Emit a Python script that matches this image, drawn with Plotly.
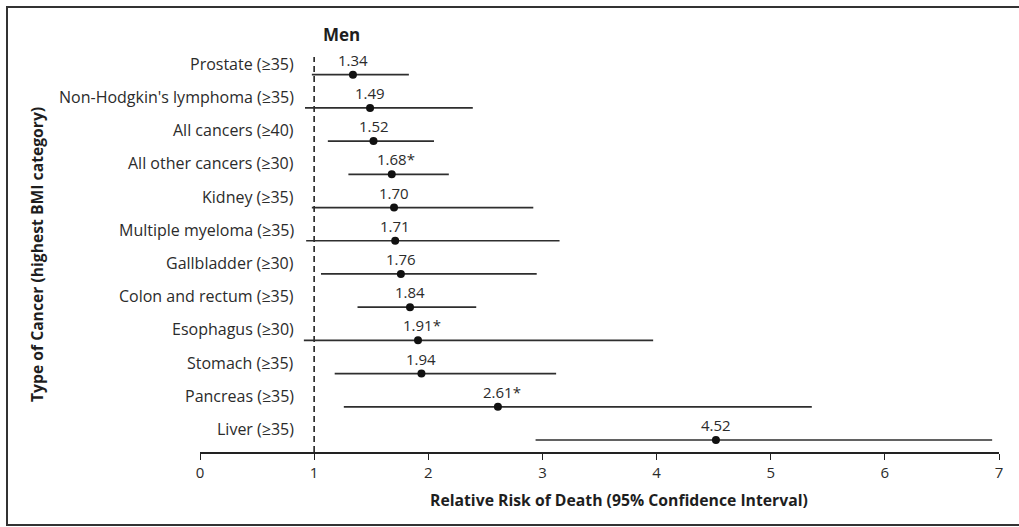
import plotly.graph_objects as go

# Relative risk of death from cancer among men in the highest BMI category
cancers = [
    "Prostate (≥35)",
    "Non-Hodgkin's lymphoma (≥35)",
    "All cancers (≥40)",
    "All other cancers (≥30)",
    "Kidney (≥35)",
    "Multiple myeloma (≥35)",
    "Gallbladder (≥30)",
    "Colon and rectum (≥35)",
    "Esophagus (≥30)",
    "Stomach (≥35)",
    "Pancreas (≥35)",
    "Liver (≥35)",
]
relative_risk = [1.34, 1.49, 1.52, 1.68, 1.70, 1.71, 1.76, 1.84, 1.91, 1.94, 2.61, 4.52]
ci_low = [0.98, 0.92, 1.12, 1.30, 0.98, 0.93, 1.06, 1.38, 0.91, 1.18, 1.26, 2.94]
ci_high = [1.83, 2.39, 2.05, 2.18, 2.92, 3.15, 2.95, 2.42, 3.97, 3.12, 5.36, 6.94]
flags = ["", "", "", "*", "", "", "", "", "*", "", "*", ""]
x_ticks = [0, 1, 2, 3, 4, 5, 6, 7]

W, H = 1019, 527
PLOT_L, PLOT_R, PLOT_T, PLOT_B = 200, 999, 57, 452
FONT = "'Open Sans', Lato, sans-serif"
TEXT = "#2b2b2b"
INK = "#1e1e1e"

n = len(cancers)
rows = [n - 1 - i for i in range(n)]  # first category at the top

err_plus = [h - r for h, r in zip(ci_high, relative_risk)]
err_minus = [r - l for r, l in zip(relative_risk, ci_low)]

fig = go.Figure()
fig.add_trace(
    go.Scatter(
        x=relative_risk,
        y=rows,
        mode="markers",
        marker=dict(size=8, color="#111111"),
        error_x=dict(
            type="data",
            symmetric=False,
            array=err_plus,
            arrayminus=err_minus,
            width=0,
            thickness=1.7,
            color="#2e2e2e",
        ),
        hoverinfo="skip",
        showlegend=False,
    )
)

# Reference line at a relative risk of 1
fig.add_shape(
    type="line", xref="x", yref="paper", x0=1, x1=1, y0=0, y1=1,
    line=dict(color="#222222", width=1.6, dash="6px,4px"), layer="below",
)


def px_x(p):
    return (p - PLOT_L) / (PLOT_R - PLOT_L)


def px_y(p):
    return (PLOT_B - p) / (PLOT_B - PLOT_T)


# Frame around the figure
fig.add_shape(
    type="rect", xref="paper", yref="paper",
    x0=px_x(7), x1=px_x(1030), y0=px_y(525), y1=px_y(7),
    line=dict(color="#333333", width=2), fillcolor="rgba(0,0,0,0)",
)

annotations = []
for label, r, f, y in zip(cancers, relative_risk, flags, rows):
    # category label to the left of the reference line
    annotations.append(dict(
        x=px_x(296), xref="paper", y=y, yref="y", text=label,
        xanchor="right", yanchor="middle", yshift=11, showarrow=False,
        font=dict(family=FONT, size=16, color=TEXT),
    ))
    # estimate printed above its point
    annotations.append(dict(
        x=r, xref="x", y=y, yref="y", text=f"{r:.2f}{f}",
        xanchor="center", yanchor="middle", yshift=15,
        xshift=4 if f else 0, showarrow=False,
        font=dict(family=FONT, size=15, color=TEXT),
    ))

annotations.append(dict(
    x=px_x(321), xref="paper", y=px_y(35), yref="paper", text="<b>Men</b>",
    xanchor="left", yanchor="middle", showarrow=False,
    font=dict(family=FONT, size=17, color=INK),
))
annotations.append(dict(
    x=px_x(619), xref="paper", y=px_y(500), yref="paper",
    text="<b>Relative Risk of Death (95% Confidence Interval)</b>",
    xanchor="center", yanchor="middle", showarrow=False,
    font=dict(family=FONT, size=15.75, color=INK),
))
annotations.append(dict(
    x=px_x(37), xref="paper", y=px_y(255), yref="paper",
    text="<b>Type of Cancer (highest BMI category)</b>", textangle=-90,
    xanchor="center", yanchor="middle", showarrow=False,
    font=dict(family=FONT, size=15.7, color=INK),
))

fig.update_layout(
    width=W,
    height=H,
    margin=dict(l=PLOT_L, r=W - PLOT_R, t=PLOT_T, b=H - PLOT_B),
    paper_bgcolor="white",
    plot_bgcolor="white",
    annotations=annotations,
    xaxis=dict(
        range=[0, 7],
        tickvals=x_ticks,
        ticktext=[str(t) for t in x_ticks],
        showline=True,
        linecolor="#222222",
        linewidth=1.6,
        ticks="outside",
        ticklen=6,
        tickwidth=1.4,
        tickcolor="#222222",
        showgrid=False,
        zeroline=False,
        tickfont=dict(family=FONT, size=15, color=TEXT),
    ),
    yaxis=dict(
        range=[-(PLOT_B - 440) / 33.2, n - 1 + (74.7 - PLOT_T) / 33.2],
        showticklabels=False,
        showgrid=False,
        zeroline=False,
        showline=False,
        ticks="",
    ),
)

fig.write_html("out.html")
